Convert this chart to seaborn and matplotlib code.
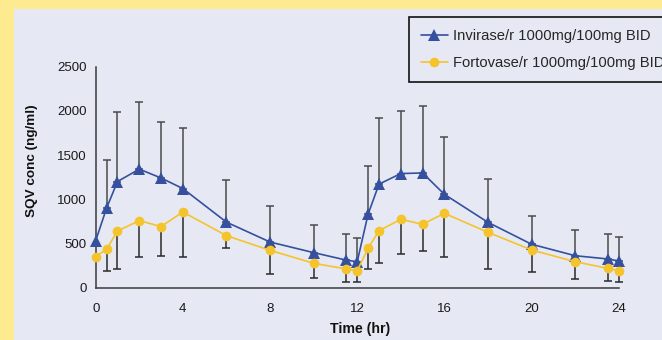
import numpy as np
import pandas as pd
import seaborn as sns
import matplotlib.pyplot as plt
from matplotlib.patches import Rectangle


# Zeitpunkte (Stunden)
time_hr = [0, 0.5, 1, 2, 3, 4, 6, 8, 10, 11.5, 12, 12.5, 13, 14, 15, 16, 18, 20, 22, 23.5, 24]

# Mittelwerte SQV (ng/ml)
invirase = [530, 900, 1200, 1340, 1240, 1120, 740, 515, 395, 310, 292,
            830, 1170, 1290, 1297, 1055, 738, 490, 360, 323, 300]
fortovase = [350, 433, 640, 757, 690, 855, 587, 421, 274, 210, 190,
             444, 643, 772, 716, 840, 625, 425, 292, 217, 190]

# Fehlerbalken: Invirase nach oben, Fortovase nach unten (None = kein Balken)
invirase_upper = [None, 1440, 1984, 2097, 1878, 1803, 1217, 926, 711, 606, 557,
                  1376, 1916, 1995, 2055, 1701, 1225, 810, 648, 609, 572]
fortovase_lower = [None, 187, 210, 349, 357, 349, 444, 153, 104, 66, 59,
                   213, 281, 379, 417, 349, 213, 172, 96, 74, 66]

label_inv = 'Invirase/r 1000mg/100mg BID'
label_fort = 'Fortovase/r 1000mg/100mg BID'
x_ticks = [0, 4, 8, 12, 16, 20, 24]
y_ticks = [0, 500, 1000, 1500, 2000, 2500]

blue = '#34509e'
yellow = '#f5c32c'
panel = '#e6e9f3'

sns.set_style('white')
plt.rcParams['font.family'] = ['Liberation Sans', 'DejaVu Sans']

df = pd.DataFrame({'time': time_hr * 2,
                   'conc': invirase + fortovase,
                   'group': [label_inv] * len(time_hr) + [label_fort] * len(time_hr)})

fig = plt.figure(figsize=(6.62, 3.4), dpi=100, facecolor='#ffeb8f')
fig.patches.append(Rectangle((14 / 662, 0), 1, 1 - 9 / 340, transform=fig.transFigure,
                             facecolor=panel, edgecolor='none', zorder=-5))
ax = fig.add_axes([95.7 / 662, 1 - 287.5 / 340, 523 / 662, 220.8 / 340])
ax.set_facecolor('none')
ax.set_zorder(2)

# Fehlerbalken zuerst (liegen unter den Markern)
t_up = [t for t, u in zip(time_hr, invirase_upper) if u is not None]
m_up = [m for m, u in zip(invirase, invirase_upper) if u is not None]
e_up = [u - m for m, u in zip(invirase, invirase_upper) if u is not None]
ax.errorbar(t_up, m_up, yerr=[np.zeros(len(e_up)), e_up], fmt='none',
            ecolor='#4a4a4a', elinewidth=1.1, capsize=2.6, capthick=1.1, zorder=2, clip_on=False)

t_lo = [t for t, l in zip(time_hr, fortovase_lower) if l is not None]
m_lo = [m for m, l in zip(fortovase, fortovase_lower) if l is not None]
e_lo = [m - l for m, l in zip(fortovase, fortovase_lower) if l is not None]
ax.errorbar(t_lo, m_lo, yerr=[e_lo, np.zeros(len(e_lo))], fmt='none',
            ecolor='#2a2a2a', elinewidth=1.1, capsize=2.6, capthick=1.1, zorder=2, clip_on=False)

sns.lineplot(data=df, x='time', y='conc', hue='group', style='group',
             palette={label_inv: blue, label_fort: yellow},
             markers={label_inv: '^', label_fort: 'o'}, dashes=False,
             markeredgewidth=0, linewidth=1.2, ax=ax, zorder=3, clip_on=False)

for line in ax.get_lines():
    if line.get_marker() == '^':
        line.set_markersize(8.5)
    elif line.get_marker() == 'o':
        line.set_markersize(7)

ax.set_xlim(0, 24)
ax.set_ylim(0, 2500)
ax.set_xticks(x_ticks)
ax.set_yticks(y_ticks)
ax.tick_params(axis='both', direction='out', length=4, width=1, color='#444444',
               labelsize=9.5, labelcolor='#1a1a1a')
ax.tick_params(axis='x', pad=7)
ax.tick_params(axis='y', pad=2.5)
sns.despine(ax=ax)
for s in ['left', 'bottom']:
    ax.spines[s].set_color('#3a3a3a')
    ax.spines[s].set_linewidth(1.1)

ax.set_xlabel('Time (hr)', fontsize=10.2, fontweight='bold', color='#111111')
ax.set_ylabel('SQV conc (ng/ml)', fontsize=9.7, fontweight='bold', color='#111111')
ax.xaxis.set_label_coords(0.505, -0.155)
ax.yaxis.set_label_coords(-0.11, 0.574)

handles, labels = ax.get_legend_handles_labels()
ax.get_legend().remove()
for h in handles:
    if h.get_marker() == '^':
        h.set_markersize(8.5)
    elif h.get_marker() == 'o':
        h.set_markersize(7)
leg = fig.legend(handles, labels, loc='upper left', bbox_to_anchor=(408.7 / 662, 1 - 16.7 / 340),
                 fontsize=10.6, frameon=True, fancybox=False, framealpha=1,
                 handlelength=1.8, handletextpad=0.35, labelspacing=0.85,
                 borderpad=0.85, borderaxespad=0)
leg.get_frame().set_edgecolor('#111111')
leg.get_frame().set_linewidth(1.2)
leg.get_frame().set_facecolor(panel)
leg.set_zorder(5)

fig.savefig('out.png', dpi=100, facecolor=fig.get_facecolor())
